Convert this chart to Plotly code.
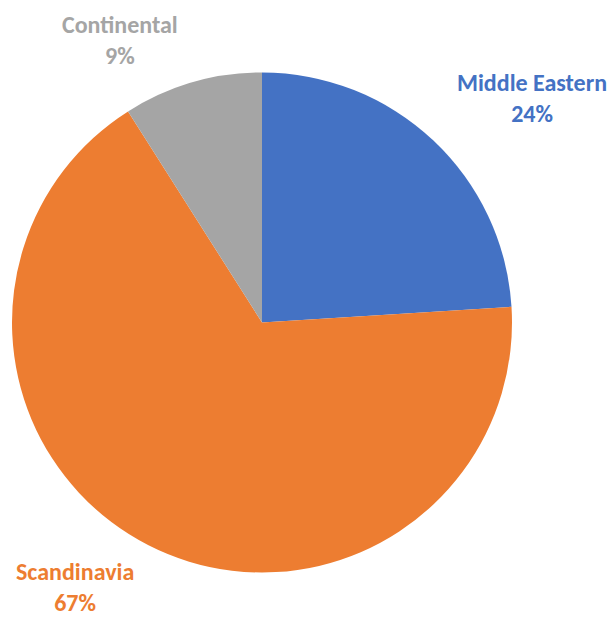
import plotly.graph_objects as go

categories = ["Middle Eastern", "Scandinavia", "Continental"]
values = [24, 67, 9]
colors = ["#4472C4", "#ED7D31", "#A5A5A5"]

# label centre positions in pixels (layout only)
label_px = [(532, 98), (75, 587), (120, 40)]

W, H = 611, 618
total = sum(values)

fig = go.Figure(go.Pie(
    labels=categories,
    values=values,
    marker=dict(colors=colors, line=dict(width=0)),
    sort=False,
    direction="clockwise",
    rotation=0,
    textinfo="none",
    hoverinfo="label+percent",
    showlegend=False,
    domain=dict(x=[12 / W, 512 / W], y=[1 - 573 / H, 1 - 72 / H]),
))

font_family = "Calibri, Carlito, Lato, sans-serif"
for cat, val, col, (px, py) in zip(categories, values, colors, label_px):
    pct = round(val / total * 100)
    fig.add_annotation(
        x=px / W, y=1 - py / H, xref="paper", yref="paper",
        xanchor="center", yanchor="middle",
        text=f"<b>{cat}<br>{pct}%</b>",
        showarrow=False,
        align="center",
        font=dict(family=font_family, size=24, color=col),
    )

fig.update_layout(
    width=W, height=H,
    margin=dict(l=0, r=0, t=0, b=0),
    paper_bgcolor="white",
    plot_bgcolor="white",
)

fig.write_html("out.html")
